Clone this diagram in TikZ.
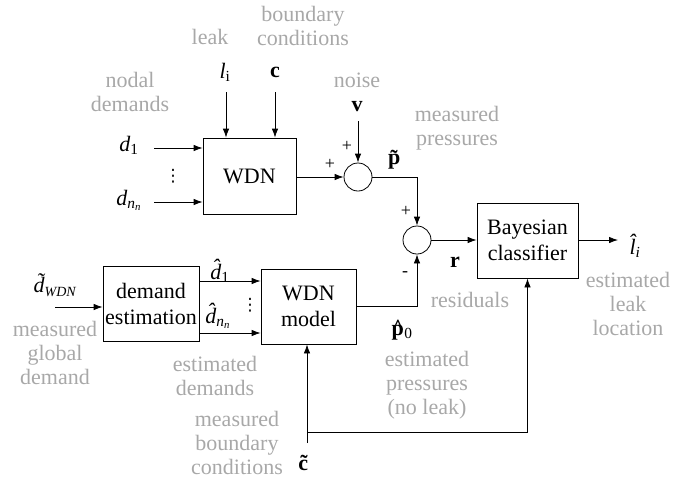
\documentclass[tikz,border=0pt]{standalone}
\usepackage{fontspec}
\setmainfont{Liberation Serif}
\newfontfamily\dejavu{DejaVu Sans}
\usetikzlibrary{arrows.meta}
\definecolor{labgray}{RGB}{168,168,168}
\tikzset{
  every node/.style={font=\rmfamily\fontsize{22}{24}\selectfont, inner sep=0pt},
  blk/.style={draw, line width=0.8pt, align=center, font=\rmfamily\fontsize{22}{26}\selectfont},
  sum/.style={draw, circle, line width=0.8pt, minimum size=28pt},
  lab/.style={text=labgray, align=center},
  sgn/.style={font=\rmfamily\fontsize{18}{18}\selectfont},
  dotsv/.style={font=\dejavu\fontsize{17}{17}\selectfont},
  arr/.style={line width=0.8pt, -{Latex[length=9pt,width=6.5pt]}},
  ln/.style={line width=0.8pt}
}
\newcommand{\vb}[1]{\textbf{#1}}
\newcommand{\hatp}{\textbf{\ooalign{p\cr\hfil\raisebox{1pt}{\^{}}\hfil\cr}}}
\begin{document}
\begin{tikzpicture}[x=1pt,y=-1pt]
\useasboundingbox (0,0) rectangle (673,480);
% blocks
\node[blk, minimum width=93pt, minimum height=76pt] (wdn) at (249.5,176) {WDN};
\node[blk, minimum width=96pt, minimum height=75pt] (dem) at (151,303.5) {demand\\estimation};
\node[blk, minimum width=95pt, minimum height=75pt] (model) at (308.5,306.5) {WDN\\model};
\node[blk, minimum width=101pt, minimum height=75pt] (bay) at (527.5,240.5) {Bayesian\\classifier};
\node[sum] (s1) at (358,177) {};
\node[sum] (s2) at (417,240) {};
% gray labels
\node[lab] (nodal) at (130,92) {nodal\\demands};
\node[lab] (leak) at (210,37) {leak};
\node[lab] (bc) at (303,26) {boundary\\conditions};
\node[lab] (noise) at (357,80) {noise};
\node[lab] (mp) at (457,128) {measured\\pressures};
\node[lab] (res) at (470,300) {residuals};
\node[lab] (ell) at (628,304) {estimated\\leak\\location};
\node[lab] (mgd) at (55,353) {measured\\global\\demand};
\node[lab] (ed) at (215,376) {estimated\\demands};
\node[lab] (mbc) at (237,443) {measured\\boundary\\conditions};
\node[lab] (ep) at (427,385) {estimated\\pressures\\(no leak)};
% symbols
\node (d1) at (129,145) {\itshape d\textsubscript{\upshape 1}};
\node (dn) at (129,200) {\itshape d\textsubscript{\textit{n}\textsubscript{\textit{n}}}};
\node[dotsv] (vd1) at (173,176) {⋮};
\node (li) at (225,72) {\itshape l\textsubscript{\upshape i}};
\node (c) at (275,72) {\vb{c}};
\node (v) at (357,107) {\vb{v}};
\node (pt) at (398,160) {\vb{\~p}};
\node (r) at (455,262) {\vb{r}};
\node (lh) at (635,246) {\itshape \^l\textsubscript{i}};
\node (dw) at (55,285) {\itshape \~d\textsubscript{\fontsize{14}{14}\selectfont WDN}};
\node (d1h) at (220,271) {\itshape \^d\textsubscript{\upshape 1}};
\node (dnh) at (218,316) {\itshape \^d\textsubscript{\textit{n}\textsubscript{\textit{n}}}};
\node[dotsv] (vd2) at (250,305) {⋮};
\node (p0) at (402,332) {\hatp\textsubscript{0}};
\node (ct) at (307,463) {\vb{\~c}};
% signs
\node[sgn] (pl1) at (330,164) {+};
\node[sgn] (pl2) at (347,146) {+};
\node[sgn] (pl3) at (406,211) {+};
\node[sgn] (mi) at (405,274) {-};
% free ends
\coordinate (d1s) at (154,148);
\coordinate (dns) at (154,202);
\coordinate (liS) at (226,92);
\coordinate (cS) at (275,92);
\coordinate (vS) at (358,121);
\coordinate (dwS) at (55,307);
\coordinate (d1hy) at (0,281);
\coordinate (dnhy) at (0,333);
\coordinate (ctS) at (307,443);
\coordinate (fb) at (307,432);
\coordinate (lhE) at (618,240);
% connectors
\draw[arr] (d1s) -- (d1s -| wdn.west);
\draw[arr] (dns) -- (dns -| wdn.west);
\draw[arr] (liS) -- (liS |- wdn.north);
\draw[arr] (cS) -- (cS |- wdn.north);
\draw[arr] (vS) -- (s1.north);
\draw[arr] (wdn.east |- s1) -- (s1.west);
\draw[arr] (s1.east) -| (s2.north);
\draw[arr] (s2.east) -- (bay.west |- s2);
\draw[arr] (bay.east |- lhE) -- (lhE);
\draw[arr] (model.east) -| (s2.south);
\draw[arr] (dwS) -- (dwS -| dem.west);
\draw[arr] (dem.east |- d1hy) -- (model.west |- d1hy);
\draw[arr] (dem.east |- dnhy) -- (model.west |- dnhy);
\draw[arr] (ctS) -- (ctS |- model.south);
\draw[arr] (fb) -| (bay.south);
\end{tikzpicture}
\end{document}
